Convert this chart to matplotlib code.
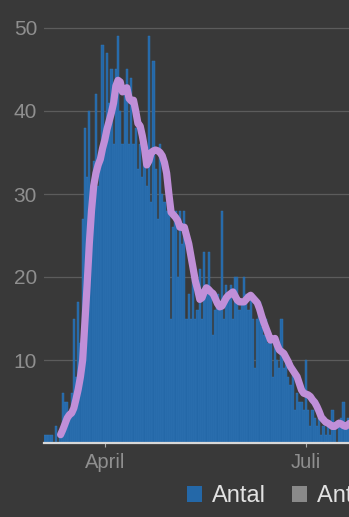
import numpy as np
import pandas as pd
import matplotlib
matplotlib.use("Agg")
import matplotlib.pyplot as plt
import matplotlib.dates as mdates
from matplotlib.patches import Patch

# ---------------- data ----------------
start_date = "2020-03-05"
daily_counts = [
    1, 1, 1, 1, 0, 2, 0, 1, 6, 5, 5, 3, 6, 15, 8, 17, 12, 27, 38, 32,
    40, 30, 34, 42, 31, 33, 48, 36, 47, 41, 45, 36, 45, 49, 40, 36, 42, 45, 36, 44,
    36, 38, 33, 36, 32, 35, 31, 49, 29, 46, 33, 27, 36, 30, 29, 28, 30, 15, 26, 28,
    20, 28, 24, 28, 15, 18, 15, 22, 15, 16, 21, 15, 23, 18, 23, 18, 13, 16, 18, 17,
    28, 15, 19, 18, 19, 15, 20, 20, 16, 17, 20, 18, 16, 18, 15, 9, 15, 17, 14, 13,
    15, 12, 13, 8, 12, 10, 9, 15, 9, 10, 8, 7, 9, 4, 6, 5, 5, 4, 10, 4,
    2, 4, 3, 2, 3, 1, 2, 1, 2, 1, 4, 2, 0, 2, 3, 5, 2, 3, 2, 3,
    2, 2,
]
avg_start_date = "2020-03-12"
rolling_avg = [
    1.0, 1.6, 2.3, 3.0, 3.4, 3.6, 4.2, 5.3, 6.5, 8.0, 10.0, 14.5, 19.0, 24.0,
    28.0, 31.0, 32.5, 33.5, 34.2, 35.5, 36.5, 37.8, 38.8, 39.8, 41.0, 43.0, 43.7,
    43.5, 42.3, 42.5, 42.8, 41.5, 41.2, 41.3, 40.0, 38.5, 38.2, 37.0, 35.5, 33.5,
    34.0, 35.0, 35.2, 35.3, 35.2, 35.0, 34.6, 33.8, 32.5, 30.0, 27.8, 27.5, 27.2,
    26.8, 26.0, 26.0, 26.0, 25.0, 24.0, 22.5, 21.0, 19.5, 18.5, 17.3, 17.5, 18.2,
    18.7, 18.5, 18.2, 18.0, 17.4, 16.8, 16.4, 16.5, 17.0, 17.5, 17.8, 18.0, 18.2,
    17.7, 17.2, 17.0, 17.0, 17.0, 17.3, 17.6, 17.8, 17.5, 17.2, 16.9, 16.2, 15.3,
    14.5, 13.8, 13.1, 12.4, 12.5, 12.6, 11.8, 11.2, 11.0, 10.8, 10.3, 9.8, 9.2,
    8.8, 8.4, 8.0, 7.2, 6.4, 6.0, 5.9, 5.8, 5.6, 5.2, 4.9, 4.4, 3.8, 3.1, 2.8,
    2.5, 2.4, 2.2, 2.0, 2.0, 2.2, 2.4, 2.3, 2.1, 2.0, 2.2, 2.4, 2.5, 2.6,
]
tick_dates = ["2020-04-01", "2020-07-01"]
tick_labels = ["April", "Juli"]
y_ticks = [10, 20, 30, 40, 50]
legend_labels = ["Antal", "Antal under utredning"]

# ---------------- style ----------------
BG = "#393939"
BAR = "#2468a8"
BAR_EDGE = "#3479b8"
LINE = "#c08fd8"
GRID = "#5c5c5c"
TICK = "#8f8f8f"
FONT = "Liberation Sans"

W, H = 349, 517
fig = plt.figure(figsize=(W / 100, H / 100), dpi=100, facecolor=BG)

px_per_day = 2.21
x0_px = 44
d_left = -0.5
d_right = 160
y0_px = 443
px_per_unit = 8.3
y_top = 52

ax = fig.add_axes([
    x0_px / W,
    (H - y0_px) / H,
    (d_right - d_left) * px_per_day / W,
    y_top * px_per_unit / H,
])
ax.set_facecolor(BG)

dates = pd.date_range(start_date, periods=len(daily_counts), freq="D")
avg_dates = pd.date_range(avg_start_date, periods=len(rolling_avg), freq="D")
base = pd.Timestamp(start_date)

ax.bar(dates, daily_counts, width=1.0, color=BAR, edgecolor=BAR_EDGE,
       linewidth=0.3, zorder=2)
ax.plot(avg_dates, rolling_avg, color=LINE, linewidth=5.2,
        solid_capstyle="round", solid_joinstyle="round", zorder=3)

ax.set_xlim(base + pd.Timedelta(days=d_left), base + pd.Timedelta(days=d_right))
ax.set_ylim(0, y_top)

for s in ["top", "right", "left"]:
    ax.spines[s].set_visible(False)
ax.spines["bottom"].set_color("#d8d8d8")
ax.spines["bottom"].set_linewidth(1.6)
ax.spines["bottom"].set_zorder(4)

ax.set_yticks(y_ticks)
ax.set_yticklabels([str(v) for v in y_ticks])
ax.yaxis.grid(True, color=GRID, linewidth=0.9, zorder=0)
ax.set_axisbelow(True)
ax.tick_params(axis="y", length=0, pad=5, labelcolor=TICK, labelsize=15)

ax.set_xticks(pd.to_datetime(tick_dates))
ax.set_xticklabels(tick_labels)
ax.tick_params(axis="x", length=3, width=0.8, color="#aaaaaa", pad=4,
               labelcolor=TICK, labelsize=14.5)
for lab in ax.get_xticklabels() + ax.get_yticklabels():
    lab.set_fontfamily(FONT)

handles = [Patch(facecolor=BAR, edgecolor="none"),
           Patch(facecolor="#8a8a8a", edgecolor="none")]
leg = fig.legend(handles, legend_labels, loc="center left",
                 bbox_to_anchor=(187 / W, (H - 496) / H), ncol=2,
                 frameon=False, borderpad=0, borderaxespad=0,
                 handlelength=0.65, handleheight=0.65, handletextpad=0.4,
                 columnspacing=1.1,
                 prop={"family": FONT, "size": 17})
for t in leg.get_texts():
    t.set_color("#e2e2e2")

fig.savefig("out.png", dpi=100, facecolor=BG)
